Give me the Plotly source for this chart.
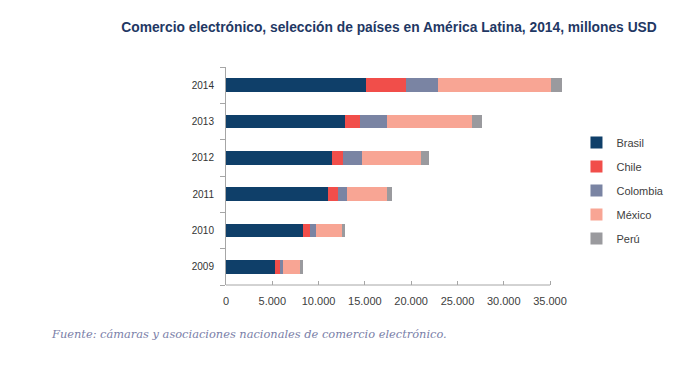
import plotly.graph_objects as go

years = ["2009", "2010", "2011", "2012", "2013", "2014"]
brasil = [5290, 8340, 11070, 11470, 12880, 15110]
chile = [500, 760, 1050, 1220, 1580, 4320]
colombia = [360, 570, 970, 1990, 2980, 3450]
mexico = [1870, 2850, 4290, 6400, 9180, 12190]
peru = [290, 380, 600, 830, 1010, 1260]

series = [
    ("Brasil", brasil, "#0f3f69"),
    ("Chile", chile, "#f14e4a"),
    ("Colombia", colombia, "#7a84a3"),
    ("México", mexico, "#f8a594"),
    ("Perú", peru, "#9a9a9e"),
]

x_ticks = [0, 5000, 10000, 15000, 20000, 25000, 30000, 35000]

fig = go.Figure()
for i, (name, vals, col) in enumerate(series):
    fig.add_trace(go.Bar(
        y=years, x=vals, name=name, orientation="h",
        marker=dict(color=col, line=dict(width=0)),
        legendgroup=f"g{i}",
    ))

axis_col = "#a6a6a6"
fig.update_layout(
    width=672, height=365,
    paper_bgcolor="white", plot_bgcolor="white",
    margin=dict(l=218, r=117, t=59, b=88, autoexpand=False),
    barmode="stack", bargap=0.615,
    separators=",.",
    font=dict(family="Liberation Sans, Arial, sans-serif", size=11, color="#404040"),
    title=dict(
        text="<b>Comercio electrónico, selección de países en América Latina, 2014, millones USD</b>",
        font=dict(family="Liberation Sans, Arial, sans-serif", size=13.8, color="#1f3864"),
        xref="container", x=0.567, xanchor="center",
        yref="container", y=0.948, yanchor="middle",
    ),
    legend=dict(
        x=1.04, xanchor="left", y=0.72, yanchor="top",
        traceorder="grouped", tracegroupgap=5,
        font=dict(size=11, color="#404040"),
        bgcolor="rgba(0,0,0,0)",
    ),
    xaxis=dict(
        range=[0, 36400], showgrid=False, zeroline=False, showline=False,
        tickvals=x_ticks, tickformat=",d",
        ticks="inside", ticklen=4, tickcolor=axis_col,
        tickfont=dict(size=11, color="#404040"),
        ticklabelstandoff=8,
        fixedrange=True,
    ),
    yaxis=dict(
        type="category", categoryorder="array", categoryarray=years,
        range=[-0.5, 5.5],
        showgrid=False, zeroline=False,
        showline=True, linecolor=axis_col, linewidth=1,
        ticks="outside", tickson="boundaries", ticklen=5, tickcolor=axis_col,
        tickfont=dict(size=10, color="#333333"),
        ticklabelstandoff=9,
    ),
    showlegend=True,
)

fig.add_shape(type="line", xref="x", yref="paper",
              x0=0, x1=x_ticks[-1], y0=0, y1=0,
              line=dict(color=axis_col, width=1))

fig.add_annotation(
    text="<i>Fuente: cámaras y asociaciones nacionales de comercio electrónico.</i>",
    xref="paper", yref="paper", x=-0.525, y=-0.225,
    xanchor="left", yanchor="middle", showarrow=False,
    font=dict(family="DejaVu Serif, serif", size=11.4, color="#7a80a8"),
)

fig.write_html("out.html")
